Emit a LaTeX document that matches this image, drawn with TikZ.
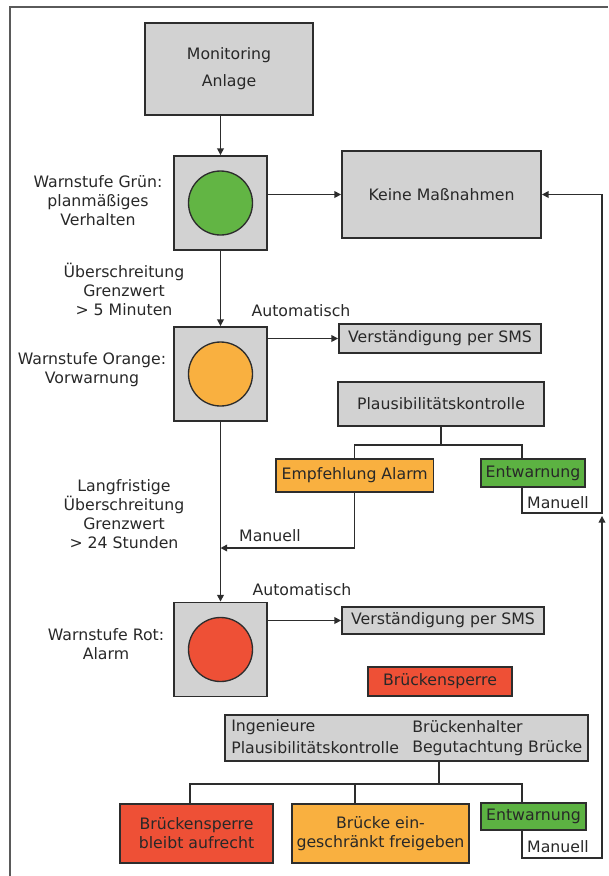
\documentclass[tikz,border=0pt]{standalone}
\usepackage{fontspec}
\setmainfont{DejaVu Sans}
\usetikzlibrary{arrows.meta,calc}

\definecolor{boxgray}{RGB}{210,210,210}
\definecolor{edge}{RGB}{45,45,45}
\definecolor{ink}{RGB}{40,40,40}
\definecolor{lampgreen}{RGB}{98,181,68}
\definecolor{lamporange}{RGB}{249,176,64}
\definecolor{lampred}{RGB}{238,80,54}
\definecolor{okgreen}{RGB}{92,178,66}
\definecolor{frame}{RGB}{90,90,90}

\tikzset{
  box/.style={draw=edge, line width=1.4pt, fill=boxgray, inner sep=0pt,
              align=center, text=ink},
  lamp/.style={circle, draw=edge, line width=1pt, minimum size=48pt, inner sep=0pt},
  wire/.style={draw=edge, line width=1.1pt},
  arr/.style={wire, -{Triangle[length=5pt,width=5pt]}},
  lbl/.style={align=center, text=ink, inner sep=0pt}
}

\begin{document}
\begin{tikzpicture}[x=0.75pt, y=-0.75pt, font=\fontsize{11.8}{14.3}\selectfont]
\useasboundingbox (0,0) rectangle (608,876);

% page frame (top and left edge)
\draw[frame, line width=1.2pt] (10,876) -- (10,7) -- (608,7);

% source and warning levels
\node[box, minimum width=126pt, minimum height=69pt] (mon) at (229,69)
  {\raisebox{-2pt}{Monitoring}\\[6pt]\raisebox{-2pt}{Anlage}};

\node[box, minimum width=69.75pt, minimum height=70.5pt] (green) at (220.5,203) {};
\node[lamp, fill=lampgreen] (gl) at (green) {};
\node[box, minimum width=69.75pt, minimum height=70.5pt] (orange) at (220.5,374) {};
\node[lamp, fill=lamporange] (ol) at (orange) {};
\node[box, minimum width=69.75pt, minimum height=70.5pt] (red) at (220.5,649.5) {};
\node[lamp, fill=lampred] (rl) at (red) {};

% action boxes
\node[box, minimum width=149.25pt, minimum height=65.25pt] (keine) at (441.5,194.5)
  {Keine Maßnahmen};
\node[box, minimum width=151.5pt, minimum height=21.75pt] (sms1) at (440,338.5)
  {Verständigung per SMS};
\node[box, minimum width=154.5pt, minimum height=33pt] (plaus) at (441,404)
  {Plausibilitätskontrolle};
\node[box, fill=lamporange, minimum width=118.1pt, minimum height=24.75pt] (empf) at (354.75,475.5)
  {Empfehlung Alarm};
\node[box, fill=okgreen, minimum width=78.4pt, minimum height=21pt] (entw1) at (533,473)
  {Entwarnung};
\node[box, minimum width=151.5pt, minimum height=20.25pt] (sms2) at (443,620.5)
  {Verständigung per SMS};
\node[box, fill=lampred, minimum width=108pt, minimum height=21.75pt] (sperre) at (440,681.5)
  {Brückensperre};
\node[box, minimum width=272.25pt, minimum height=34.5pt] (big) at (406.5,738) {};
\node[lbl, anchor=west] (bt1) at (231,727) {Ingenieure};
\node[lbl, anchor=west] (bt2) at (412,727) {Brückenhalter};
\node[lbl, anchor=west] (bt3) at (231,748) {Plausibilitätskontrolle};
\node[lbl, anchor=west] (bt4) at (412,748) {Begutachtung Brücke};
\node[box, fill=lampred, minimum width=114.75pt, minimum height=44.25pt] (red2) at (196.5,833.5)
  {Brückensperre\\bleibt aufrecht};
\node[box, fill=lamporange, minimum width=132.75pt, minimum height=44.25pt] (orange2) at (380.5,833.5)
  {Brücke ein-\\geschränkt freigeben};
\node[box, fill=okgreen, minimum width=78.75pt, minimum height=20.25pt] (entw2) at (533.5,816.5)
  {Entwarnung};

% side labels
\node[lbl] (lg) at (98,201) {Warnstufe Grün:\\planmäßiges\\Verhalten};
\node[lbl] (lu1) at (124,289) {Überschreitung\\Grenzwert\\> 5 Minuten};
\node[lbl] (au1) at (301,311) {Automatisch};
\node[lbl] (lo) at (92,370) {Warnstufe Orange:\\Vorwarnung};
\node[lbl] (lu2) at (124,514) {Langfristige\\Überschreitung\\Grenzwert\\> 24 Stunden};
\node[lbl] (ma1) at (270,536) {Manuell};
\node[lbl] (ma2) at (558,503) {Manuell};
\node[lbl] (au2) at (302,590) {Automatisch};
\node[lbl] (lr) at (106,644) {Warnstufe Rot:\\Alarm};
\node[lbl] (ma3) at (558,847) {Manuell};

% main flow
\draw[arr] (mon.south -| green.north) -- (green.north);
\draw[arr] (green.east |- keine.west) -- (keine.west);
\draw[arr] (green.south) -- (orange.north);
\draw[arr] (orange.east |- sms1.west) -- (sms1.west);
\draw[arr] (orange.south) -- (red.north);
\draw[arr] (red.east |- sms2.west) -- (sms2.west);

% plausibility check branches
\coordinate (e1t) at ($(entw1.north west)+(42,0)$);
\coordinate (e1b) at ($(entw1.south west)+(42,0)$);
\draw[wire] (plaus.south) -- ++(0,18) coordinate (pj);
\draw[wire] (empf.north) -- (empf.north |- pj) -- (e1t |- pj) -- (e1t);
\coordinate (manL) at (0,548);
\draw[arr] (empf.south) -- (empf.south |- manL) -- (orange.south |- manL);

% return path to "Keine Maßnahmen"
\coordinate (rx) at (602,0);
\draw[arr] (e1b) -- ++(0,25) coordinate (m1) -- (rx |- m1) -- (rx |- keine.east) -- (keine.east);

% expert assessment branches
\coordinate (bx) at (439,0);
\coordinate (r2t) at ($(red2.north)+(-6.5,0)$);
\coordinate (o2t) at ($(orange2.north)+(-25.5,0)$);
\coordinate (e2t) at ($(entw2.north west)+(42,0)$);
\coordinate (e2b) at ($(entw2.south west)+(42,0)$);
\draw[wire] (bx |- big.south) -- ++(0,22) coordinate (bj);
\draw[wire] (r2t) -- (r2t |- bj) -- (e2t |- bj) -- (e2t);
\draw[wire] (o2t) -- (o2t |- bj);
\draw[arr] (e2b) -- ++(0,27) coordinate (m2) -- (rx |- m2) -- ($(rx |- m1)+(0,3)$);
\end{tikzpicture}
\end{document}
